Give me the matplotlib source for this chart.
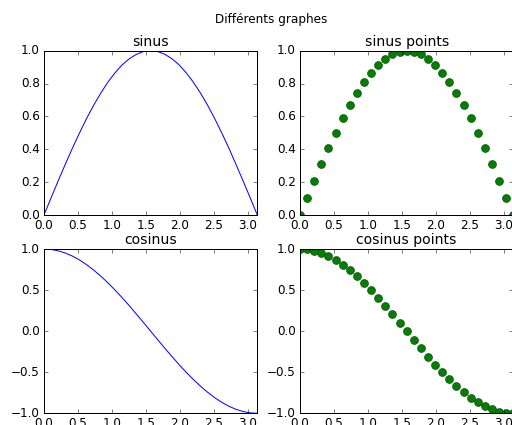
"""
Sinus / cosinus en 4 sous-graphes, style matplotlib classique.
"""

import matplotlib
matplotlib.use("Agg")
import matplotlib.pyplot as plt

# valeurs (31 points entre 0 et pi)
x_vals = [0.000, 0.105, 0.209, 0.314, 0.419, 0.524, 0.628, 0.733, 0.838, 0.942,
          1.047, 1.152, 1.257, 1.361, 1.466, 1.571, 1.676, 1.780, 1.885, 1.990,
          2.094, 2.199, 2.304, 2.409, 2.513, 2.618, 2.723, 2.827, 2.932, 3.037, 3.142]
sin_vals = [0.000, 0.105, 0.208, 0.309, 0.407, 0.500, 0.588, 0.669, 0.743, 0.809,
            0.866, 0.914, 0.951, 0.978, 0.995, 1.000, 0.995, 0.978, 0.951, 0.914,
            0.866, 0.809, 0.743, 0.669, 0.588, 0.500, 0.407, 0.309, 0.208, 0.105, 0.000]
cos_vals = [1.000, 0.995, 0.978, 0.951, 0.914, 0.866, 0.809, 0.743, 0.669, 0.588,
            0.500, 0.407, 0.309, 0.208, 0.105, 0.000, -0.105, -0.208, -0.309, -0.407,
            -0.500, -0.588, -0.669, -0.743, -0.809, -0.866, -0.914, -0.951, -0.978,
            -0.995, -1.000]

titles = ["sinus", "sinus points", "cosinus", "cosinus points"]
x_ticks = [0.0, 0.5, 1.0, 1.5, 2.0, 2.5, 3.0]
sin_ticks = [0.0, 0.2, 0.4, 0.6, 0.8, 1.0]
cos_ticks = [-1.0, -0.5, 0.0, 0.5, 1.0]

plt.style.use("classic")
plt.rcParams["font.family"] = ["DejaVu Sans"]

DPI = 72
fig = plt.figure(figsize=(512 / DPI, 425 / DPI), dpi=DPI)
fig.patch.set_facecolor("white")

w, h = 0.4166, 0.3866
positions = [
    [0.0859, 0.4941, w, h],
    [0.5859, 0.4941, w, h],
    [0.0859, 0.0275, w, h],
    [0.5859, 0.0275, w, h],
]
series = [sin_vals, sin_vals, cos_vals, cos_vals]

for i, pos in enumerate(positions):
    ax = fig.add_axes(pos)
    if i % 2 == 0:
        ax.plot(x_vals, series[i], color="#0000ff", lw=1.0)
    else:
        ax.plot(x_vals, series[i], "o", color="#007f00", markersize=8,
                markeredgecolor="#003300", markeredgewidth=0.5)
    ax.set_xlim(0, 3.1416)
    ax.set_xticks(x_ticks)
    if i < 2:
        ax.set_ylim(0, 1)
        ax.set_yticks(sin_ticks)
    else:
        ax.set_ylim(-1, 1)
        ax.set_yticks(cos_ticks)
    ax.set_title(titles[i], fontsize=14)
    ax.tick_params(labelsize=12)

fig.suptitle("Différents graphes", x=0.529, y=0.953, va="center", fontsize=12)

fig.savefig("out.png", dpi=DPI, facecolor="white")
